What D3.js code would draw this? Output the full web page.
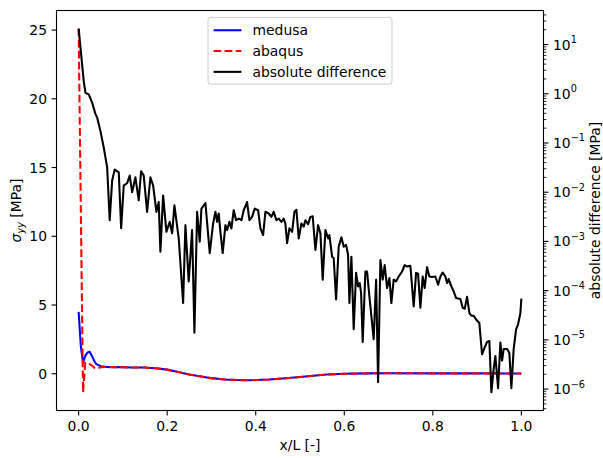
<!DOCTYPE html>
<html><head><meta charset="utf-8">
<script src="https://cdn.jsdelivr.net/npm/d3@7"></script>
<style>
body{margin:0;background:#fff;}
svg text{font-family:"DejaVu Sans",sans-serif;fill:#000;}
</style></head>
<body><svg id="c" width="603" height="458"></svg>
<script>
// ---------- data ----------
const medusaX = [0, 0.005, 0.01, 0.015, 0.02, 0.025, 0.03, 0.035, 0.04, 0.05, 0.06, 0.08, 0.1, 0.12, 0.15, 0.18, 0.2, 0.22, 0.25, 0.28, 0.3, 0.33, 0.36, 0.38, 0.4, 0.43, 0.46, 0.5, 0.53, 0.56, 0.6, 0.65, 0.7, 0.8, 0.9, 1.0];
const medusa  = [4.5, 2.0, 0.8, 1.3, 1.55, 1.6, 1.3, 0.95, 0.7, 0.55, 0.5, 0.48, 0.47, 0.46, 0.45, 0.38, 0.3, 0.16, -0.05, -0.22, -0.32, -0.42, -0.46, -0.47, -0.46, -0.42, -0.35, -0.24, -0.14, -0.06, 0.0, 0.03, 0.04, 0.03, 0.03, 0.02];
const abaqusX = [0, 0.01, 0.015, 0.02, 0.025, 0.03, 0.035, 0.04, 0.05, 0.06, 0.08, 0.1, 0.12, 0.15, 0.18, 0.2, 0.22, 0.25, 0.28, 0.3, 0.33, 0.36, 0.38, 0.4, 0.43, 0.46, 0.5, 0.53, 0.56, 0.6, 0.65, 0.7, 0.8, 0.9, 1.0];
const abaqus  = [25.1, -1.35, 0.8, 0.75, 0.7, 0.6, 0.45, 0.38, 0.48, 0.5, 0.48, 0.47, 0.46, 0.45, 0.38, 0.3, 0.16, -0.05, -0.22, -0.32, -0.42, -0.46, -0.47, -0.46, -0.42, -0.35, -0.24, -0.14, -0.06, 0.0, 0.03, 0.04, 0.03, 0.03, 0.02];
const diffX = [0.000,0.0115,0.0154,0.0228,0.0305,0.0379,0.0418,0.0492,0.0567,0.0644,0.0702,0.0757,0.0815,0.0906,0.096,0.1019,0.1095,0.1154,0.1208,0.1283,0.1357,0.1411,0.147,0.1547,0.1621,0.1682,0.1757,0.1809,0.1847,0.1908,0.1983,0.2057,0.2112,0.2163,0.2261,0.236,0.2412,0.2486,0.2563,0.2615,0.2676,0.2735,0.2773,0.2864,0.2961,0.3037,0.3089,0.3128,0.3164,0.3202,0.3254,0.3315,0.3354,0.3406,0.3451,0.3503,0.3557,0.3616,0.3677,0.3729,0.3805,0.3857,0.3918,0.3977,0.4054,0.4106,0.4167,0.4219,0.4293,0.4354,0.4406,0.4467,0.4519,0.458,0.4632,0.467,0.4709,0.4761,0.4822,0.4874,0.4919,0.4971,0.5032,0.5084,0.5122,0.5183,0.5235,0.5287,0.5348,0.5409,0.5461,0.5513,0.5574,0.5635,0.5664,0.5725,0.5761,0.5815,0.5874,0.5935,0.5987,0.6041,0.6086,0.6116,0.6161,0.6213,0.6267,0.6312,0.6348,0.638,0.6416,0.6477,0.6515,0.6567,0.6664,0.6719,0.6764,0.6816,0.6868,0.6913,0.6967,0.7019,0.7064,0.7116,0.717,0.7229,0.7306,0.7364,0.7419,0.7493,0.7568,0.7622,0.7667,0.7719,0.7771,0.7816,0.787,0.7922,0.7983,0.8058,0.8119,0.8171,0.8223,0.8284,0.8322,0.8358,0.8419,0.8471,0.8525,0.8622,0.8675,0.872,0.8774,0.8826,0.8871,0.8923,0.8977,0.9051,0.9112,0.9171,0.9225,0.9277,0.9323,0.9374,0.9413,0.9474,0.9526,0.9564,0.96,0.9677,0.9729,0.9774,0.9826,0.9881,0.9926,0.9978,1.0];
const diff = [21,1.8,1.04,0.97,0.66,0.39,0.33,0.176,0.081,0.032,0.0027,0.0173,0.0288,0.0254,0.00186,0.0137,0.0152,0.0218,0.010,0.0201,0.00684,0.0266,0.0218,0.00397,0.0201,0.0137,0.00397,0.0063,0.00062,0.0086,0.00157,0.0025,0.00146,0.00542,0.00115,5.6e-5,0.00214,1.54e-4,0.0017,1.4e-5,0.004,0.00099,0.00465,0.006,0.00058,0.0023,0.004,0.0025,0.0037,0.00157,0.00058,0.00214,0.0017,0.0025,0.00184,0.0043,0.0027,0.0029,0.0027,0.0043,0.0063,0.0027,0.00315,0.00465,0.0043,0.00184,0.00135,0.004,0.0037,0.00315,0.004,0.0027,0.0029,0.0025,0.0029,0.0023,0.00092,0.00184,0.00157,0.004,0.0044,0.00115,0.0023,0.002,0.0027,0.00224,0.00315,0.00325,0.00067,0.00214,0.00146,1.67e-4,0.0017,0.00115,0.00135,4.9e-4,4.6e-4,6.6e-5,7.8e-4,0.00121,7.8e-4,8.5e-4,5.3e-4,5.6e-5,4.9e-4,1.64e-5,2.3e-4,1.22e-4,1.43e-4,9e-5,9.1e-6,2.45e-4,2.45e-4,7.7e-5,1.03e-5,1.67e-4,1.38e-6,4.2e-4,1.67e-4,3.3e-4,1.13e-4,1.8e-4,5.6e-5,1.67e-4,1.54e-4,1.94e-4,2.45e-4,3.3e-4,3.1e-4,3.2e-4,4.8e-5,2.3e-4,2.2e-4,4.5e-5,1.94e-4,1.13e-4,3.0e-4,1.94e-4,1.9e-4,1.94e-4,1.32e-4,1.94e-4,2.34e-4,1.94e-4,1.43e-4,1.72e-4,1.22e-4,9.7e-5,7.1e-5,6.8e-5,4.5e-5,4.3e-5,7.5e-5,3.5e-5,3.1e-5,3.1e-5,2.6e-5,2.2e-5,5.1e-6,7e-6,9.1e-6,9.5e-6,8.6e-7,2.55e-6,4.7e-6,1.04e-6,8.8e-6,3.8e-6,6.5e-6,6.5e-6,5.4e-6,1.04e-6,6.5e-6,1.64e-5,2.07e-5,3.5e-5,6.9e-5];
const xTicks = [0.0, 0.2, 0.4, 0.6, 0.8, 1.0];
const yTicks = [0, 5, 10, 15, 20, 25];
const logTickExps = [1, 0, -1, -2, -3, -4, -5, -6];
const seriesNames = ["medusa", "abaqus", "absolute difference"];
const seriesColors = ["#0000ff", "#ff0000", "#000000"];

// ---------- layout ----------
const L = 56.5, R = 543.5, T = 10.5, B = 410.5;
const FS = 13.9;
const svg = d3.select("#c");

function padExt(ext){ const r = ext[1]-ext[0]; return [ext[0]-0.05*r, ext[1]+0.05*r]; }
const x = d3.scaleLinear().domain(padExt([0,1])).range([L,R]);
const yExt = d3.extent(medusa.concat(abaqus));
const y = d3.scaleLinear().domain(padExt(yExt)).range([B,T]);
const lext = d3.extent(diff).map(Math.log10);
const lpad = padExt(lext);
const y2 = d3.scaleLog().domain([Math.pow(10,lpad[0]), Math.pow(10,lpad[1])]).range([B,T]);

const clipId = "plotclip";
svg.append("clipPath").attr("id",clipId).append("rect").attr("x",L).attr("y",T).attr("width",R-L).attr("height",B-T);
const plot = svg.append("g").attr("clip-path",`url(#${clipId})`);

const lineL = (xs) => d3.line().x((d,i)=>x(xs[i])).y(d=>y(d));
plot.append("path").datum(medusa).attr("d",lineL(medusaX)).attr("fill","none")
  .attr("stroke",seriesColors[0]).attr("stroke-width",2.08).attr("stroke-linejoin","round");
plot.append("path").datum(abaqus).attr("d",lineL(abaqusX)).attr("fill","none")
  .attr("stroke",seriesColors[1]).attr("stroke-width",2.08).attr("stroke-dasharray","7.7,3.33");
plot.append("path").datum(diff).attr("d",d3.line().x((d,i)=>x(diffX[i])).y(d=>y2(d))).attr("fill","none")
  .attr("stroke",seriesColors[2]).attr("stroke-width",2.08).attr("stroke-linejoin","round");

// spines
svg.append("rect").attr("x",L).attr("y",T).attr("width",R-L).attr("height",B-T)
  .attr("fill","none").attr("stroke","#000").attr("stroke-width",1.1);

// x axis
const gx = svg.append("g");
xTicks.forEach(t=>{
  const px = x(t);
  gx.append("line").attr("x1",px).attr("x2",px).attr("y1",B).attr("y2",B+4.9).attr("stroke","#000").attr("stroke-width",1.1);
  gx.append("text").attr("x",px).attr("y",B+20.5).attr("text-anchor","middle").attr("font-size",FS).text(t.toFixed(1));
});
svg.append("text").attr("x",(L+R)/2).attr("y",450).attr("text-anchor","middle").attr("font-size",FS).text("x/L [-]");

// left axis
yTicks.forEach(t=>{
  const py = y(t);
  svg.append("line").attr("x1",L-4.9).attr("x2",L).attr("y1",py).attr("y2",py).attr("stroke","#000").attr("stroke-width",1.1);
  svg.append("text").attr("x",L-9.5).attr("y",py).attr("dy","0.36em").attr("text-anchor","end").attr("font-size",FS).text(t);
});
const yl = svg.append("text").attr("transform",`translate(21,${(T+B)/2}) rotate(-90)`).attr("text-anchor","middle").attr("font-size",FS);
yl.append("tspan").attr("font-style","italic").text("σ");
yl.append("tspan").attr("font-style","italic").attr("font-size",FS*0.7).attr("dy",3).text("yy");
yl.append("tspan").attr("dy",-3).text(" [MPa]");

// right log axis
const d0 = y2.domain();
const e0 = Math.floor(Math.log10(d0[0])), e1 = Math.ceil(Math.log10(d0[1]));
for(let e=e0;e<=e1;e++){
  for(let m=2;m<=9;m++){
    const v = m*Math.pow(10,e);
    if(v<d0[0]||v>d0[1]) continue;
    const py = y2(v);
    svg.append("line").attr("x1",R).attr("x2",R+2.8).attr("y1",py).attr("y2",py).attr("stroke","#000").attr("stroke-width",0.85);
  }
}
logTickExps.forEach(e=>{
  const py = y2(Math.pow(10,e));
  svg.append("line").attr("x1",R).attr("x2",R+4.9).attr("y1",py).attr("y2",py).attr("stroke","#000").attr("stroke-width",1.1);
  const t = svg.append("text").attr("x",R+9.5).attr("y",py+5).attr("font-size",FS);
  t.append("tspan").text("10");
  t.append("tspan").attr("font-size",FS*0.7).attr("dy",-6.5).text(e<0?("\u2212"+(-e)):String(e));
});
svg.append("text").attr("transform",`translate(600,${(T+B)/2}) rotate(-90)`).attr("text-anchor","middle").attr("font-size",FS).text("absolute difference [MPa]");

// legend
const lg = svg.append("g");
const box = lg.append("rect");
const texts = seriesNames.map((n,i)=>lg.append("text").attr("font-size",FS).attr("dy","0.36em").text(n));
const tw = d3.max(texts, t=>t.node().getComputedTextLength());
const bp = 5.6, hl = 27.8, htp = 11.1, rowH = 20.8;
const bw = bp + hl + htp + tw + bp;
const bh = bp*2 + 3*FS + 2*6.9;
const bx = (L+R)/2 - bw/2, by = T + 6.9;
box.attr("x",bx).attr("y",by).attr("width",bw).attr("height",bh).attr("rx",2.8)
  .attr("fill","#fff").attr("fill-opacity",0.8).attr("stroke","#cccccc").attr("stroke-width",1);
seriesNames.forEach((n,i)=>{
  const cy = by + bp + FS/2 + i*rowH + 0.3;
  const ln = lg.append("line").attr("x1",bx+bp).attr("x2",bx+bp+hl).attr("y1",cy).attr("y2",cy)
    .attr("stroke",seriesColors[i]).attr("stroke-width",2.08);
  if(i===1) ln.attr("stroke-dasharray","7.7,3.33");
  texts[i].attr("x",bx+bp+hl+htp).attr("y",cy);
});
</script></body></html>
